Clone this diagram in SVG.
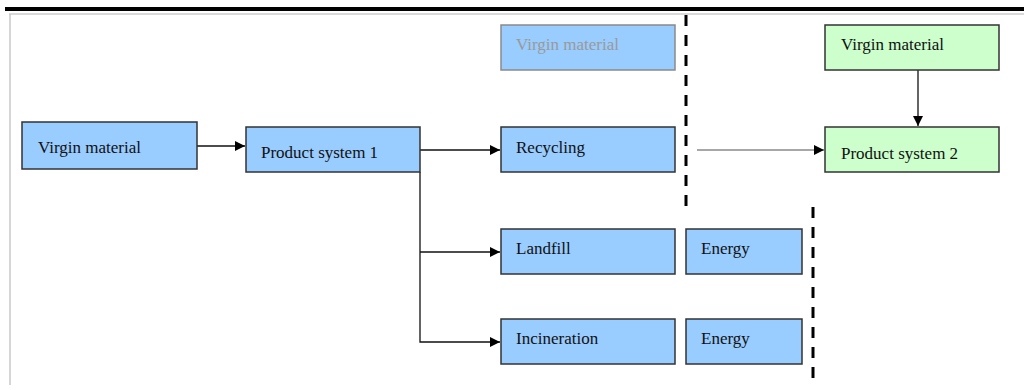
<svg xmlns="http://www.w3.org/2000/svg" width="1024" height="390" viewBox="0 0 1024 390">
  <style>
    .box { stroke: #333333; stroke-width: 1.5; }
    .blue { fill: #99ccff; }
    .green { fill: #ccffcc; }
    .ghost { fill: #99ccff; stroke: #8a8a8a; stroke-width: 1.5; }
    .lbl { font-family: "Liberation Serif", "Times New Roman", serif; font-size: 17px; fill: #111111; }
    .lbl-ghost { fill: #9a9a9a; }
    .link { fill: none; stroke: #111111; stroke-width: 1.3; }
    .link-grey { fill: none; stroke: #8a8a8a; stroke-width: 1.3; }
    .divider { fill: none; stroke: #000000; stroke-width: 3; stroke-dasharray: 11 9; }
  </style>
  <defs>
    <marker id="arrow" viewBox="0 0 10 10" refX="10" refY="5" markerWidth="10" markerHeight="10" markerUnits="userSpaceOnUse" orient="auto">
      <path d="M0,0 L10,5 L0,10 Z" fill="#000000"/>
    </marker>
  </defs>

  <rect width="1024" height="390" fill="#ffffff"/>

  <!-- page frame -->
  <g id="frame">
    <line x1="5" y1="9" x2="1024" y2="9" stroke="#000000" stroke-width="4"/>
    <line x1="9" y1="14" x2="1024" y2="14" stroke="#cccccc" stroke-width="1.5"/>
    <line x1="10" y1="14" x2="10" y2="385" stroke="#c8c8c8" stroke-width="1.5"/>
  </g>

  <!-- system boundaries -->
  <g id="boundaries">
    <line class="divider" x1="686" y1="15" x2="686" y2="210"/>
    <line class="divider" x1="813" y1="207" x2="813" y2="382"/>
  </g>

  <!-- connectors -->
  <g id="connectors">
    <line class="link" x1="197" y1="146" x2="245" y2="146" marker-end="url(#arrow)"/>
    <line class="link" x1="420" y1="150" x2="500" y2="150" marker-end="url(#arrow)"/>
    <polyline class="link" points="420,172 420,342 500,342" marker-end="url(#arrow)"/>
    <line class="link" x1="420" y1="252" x2="500" y2="252" marker-end="url(#arrow)"/>
    <line class="link-grey" x1="697" y1="150" x2="824" y2="150" marker-end="url(#arrow)"/>
    <line class="link" x1="918" y1="70" x2="918" y2="126" marker-end="url(#arrow)"/>
  </g>

  <!-- nodes -->
  <g id="virgin-material-1">
    <rect class="box blue" x="22" y="122" width="175" height="47"/>
    <text class="lbl" x="38" y="153">Virgin material</text>
  </g>
  <g id="product-system-1">
    <rect class="box blue" x="246" y="127" width="174" height="45"/>
    <text class="lbl" x="261" y="158">Product system 1</text>
  </g>
  <g id="virgin-material-avoided">
    <rect class="ghost" x="501" y="25" width="174" height="45"/>
    <text class="lbl lbl-ghost" x="516" y="50">Virgin material</text>
  </g>
  <g id="recycling">
    <rect class="box blue" x="501" y="127" width="174" height="45"/>
    <text class="lbl" x="516" y="153">Recycling</text>
  </g>
  <g id="landfill">
    <rect class="box blue" x="501" y="229" width="174" height="45"/>
    <text class="lbl" x="516" y="254">Landfill</text>
  </g>
  <g id="incineration">
    <rect class="box blue" x="501" y="319" width="174" height="45"/>
    <text class="lbl" x="516" y="344">Incineration</text>
  </g>
  <g id="energy-landfill">
    <rect class="box blue" x="686" y="229" width="116" height="45"/>
    <text class="lbl" x="701" y="254">Energy</text>
  </g>
  <g id="energy-incineration">
    <rect class="box blue" x="686" y="319" width="116" height="45"/>
    <text class="lbl" x="701" y="344">Energy</text>
  </g>
  <g id="virgin-material-2">
    <rect class="box green" x="825" y="25" width="174" height="45"/>
    <text class="lbl" x="841" y="50">Virgin material</text>
  </g>
  <g id="product-system-2">
    <rect class="box green" x="825" y="127" width="174" height="45"/>
    <text class="lbl" x="841" y="159">Product system 2</text>
  </g>
</svg>
